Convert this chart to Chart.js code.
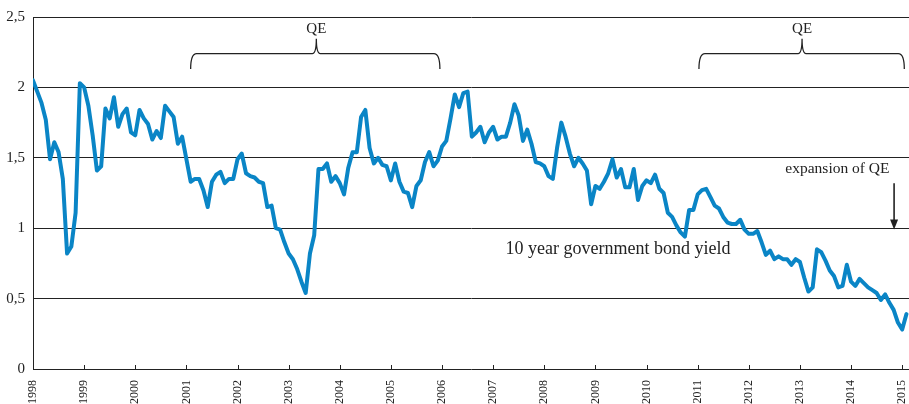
<!DOCTYPE html>
<html>
<head>
<meta charset="utf-8">
<script src="https://cdn.jsdelivr.net/npm/chart.js@4.4.0/dist/chart.umd.min.js"></script>
<style>
  html, body { margin: 0; padding: 0; background: #fff; }
</style>
</head>
<body>
<canvas id="bond" width="909" height="404"></canvas>
<script>
// monthly 10 year government bond yield, Jan 1998 .. Feb 2015
const yields = [
  2.05,1.97,1.89,1.77,1.49,1.61,1.54,1.35,0.82,0.87,1.11,2.03, // 1998
  2.00,1.87,1.66,1.41,1.44,1.85,1.78,1.93,1.72,1.81,1.85,1.68, // 1999
  1.66,1.84,1.78,1.74,1.63,1.69,1.64,1.87,1.83,1.79,1.60,1.65, // 2000
  1.49,1.33,1.35,1.35,1.27,1.15,1.33,1.38,1.40,1.32,1.35,1.35, // 2001
  1.49,1.53,1.39,1.37,1.36,1.33,1.32,1.15,1.16,1.00,0.99,0.90, // 2002
  0.82,0.78,0.71,0.62,0.54,0.82,0.95,1.42,1.42,1.46,1.33,1.37, // 2003
  1.32,1.24,1.43,1.54,1.54,1.79,1.84,1.57,1.46,1.50,1.45,1.44, // 2004
  1.34,1.46,1.33,1.26,1.25,1.15,1.30,1.34,1.47,1.54,1.44,1.48, // 2005
  1.58,1.62,1.78,1.95,1.86,1.96,1.97,1.65,1.68,1.72,1.61,1.68, // 2006
  1.72,1.63,1.65,1.65,1.75,1.88,1.80,1.62,1.70,1.60,1.47,1.46, // 2007
  1.44,1.37,1.35,1.57,1.75,1.65,1.53,1.44,1.50,1.46,1.41,1.17, // 2008
  1.30,1.28,1.33,1.39,1.49,1.36,1.42,1.29,1.29,1.42,1.20,1.30, // 2009
  1.34,1.32,1.38,1.28,1.25,1.11,1.08,1.02,0.97,0.94,1.13,1.13, // 2010
  1.24,1.27,1.28,1.22,1.16,1.14,1.08,1.04,1.03,1.03,1.06,0.99, // 2011
  0.96,0.96,0.98,0.90,0.81,0.84,0.78,0.80,0.78,0.78,0.74,0.78, // 2012
  0.76,0.65,0.55,0.58,0.85,0.83,0.77,0.70,0.66,0.58,0.59,0.74, // 2013
  0.62,0.59,0.64,0.61,0.58,0.56,0.54,0.49,0.53,0.47,0.42,0.33, // 2014
  0.28,0.39                                                    // 2015
];
const yearLabels = ['1998','1999','2000','2001','2002','2003','2004','2005','2006',
                    '2007','2008','2009','2010','2011','2012','2013','2014','2015'];
const yTicks = [0, 0.5, 1, 1.5, 2, 2.5];

// QE periods in months since Jan 1998: [start, middle, end]
const qePeriods = [[37, 66.5, 95.5], [156.3, 180.5, 204.5]];
const qeLabel = 'QE';
const expansionLabel = 'expansion of QE';
const expansionMonth = 202.1;
const seriesLabel = '10 year government bond yield';

const points = yields.map((v, i) => ({x: i, y: v}));

const serif = '"Liberation Serif", "DejaVu Serif", serif';

const overlay = {
  id: 'overlay',
  afterDraw(chart) {
    const ctx = chart.ctx, xs = chart.scales.x, ys = chart.scales.y;
    ctx.save();
    ctx.strokeStyle = '#222';
    ctx.fillStyle = '#222';
    ctx.lineWidth = 1;
    // year ticks pointing up from the axis
    yearLabels.forEach((lab, i) => {
      const px = Math.round(xs.getPixelForValue(i * 12)) + 0.5;
      ctx.beginPath();
      ctx.moveTo(px, ys.bottom);
      ctx.lineTo(px, ys.bottom - 4);
      ctx.stroke();
    });

    // braces
    const yLine = ys.getPixelForValue(2.24);
    const yEnd = ys.getPixelForValue(2.13);
    const yTip = ys.getPixelForValue(2.345);
    ctx.lineWidth = 1.3;
    ctx.font = '15px ' + serif;
    ctx.textAlign = 'center';
    ctx.textBaseline = 'middle';
    qePeriods.forEach(p => {
      const x1 = xs.getPixelForValue(p[0]);
      const xm = xs.getPixelForValue(p[1]);
      const x2 = xs.getPixelForValue(p[2]);
      ctx.beginPath();
      ctx.moveTo(x1, yEnd);
      ctx.quadraticCurveTo(x1, yLine, x1 + 6, yLine);
      ctx.lineTo(xm - 4, yLine);
      ctx.quadraticCurveTo(xm, yLine, xm, yTip);
      ctx.quadraticCurveTo(xm, yLine, xm + 4, yLine);
      ctx.lineTo(x2 - 6, yLine);
      ctx.quadraticCurveTo(x2, yLine, x2, yEnd);
      ctx.stroke();
      ctx.fillText(qeLabel, xm, ys.getPixelForValue(2.415));
    });

    // expansion of QE arrow
    const ax = xs.getPixelForValue(expansionMonth);
    const aTop = ys.getPixelForValue(1.32);
    const aBot = ys.getPixelForValue(0.99);
    ctx.lineWidth = 1.6;
    ctx.beginPath();
    ctx.moveTo(ax, aTop);
    ctx.lineTo(ax, aBot - 8);
    ctx.stroke();
    ctx.beginPath();
    ctx.moveTo(ax - 4, aBot - 10);
    ctx.lineTo(ax + 4, aBot - 10);
    ctx.lineTo(ax, aBot);
    ctx.closePath();
    ctx.fill();
    ctx.font = '15.5px ' + serif;
    ctx.fillText(expansionLabel, xs.getPixelForValue(188.8), ys.getPixelForValue(1.42));

    ctx.font = '18px ' + serif;
    ctx.fillText(seriesLabel, xs.getPixelForValue(137.3), ys.getPixelForValue(0.85));
    ctx.restore();
  }
};

new Chart(document.getElementById('bond'), {
  type: 'line',
  data: {
    datasets: [{
      data: points,
      borderColor: '#0a85c6',
      borderWidth: 4,
      pointRadius: 0,
      tension: 0,
      borderJoinStyle: 'round',
      borderCapStyle: 'round'
    }]
  },
  options: {
    responsive: false,
    animation: false,
    layout: {padding: {top: 16, right: 0, left: 0, bottom: 0}},
    plugins: {legend: {display: false}, tooltip: {enabled: false}},
    scales: {
      x: {
        type: 'linear',
        min: 0,
        max: 205.6,
        afterBuildTicks: s => { s.ticks = yearLabels.map((l, i) => ({value: i * 12})); },
        afterFit: s => { s.height = 35; s.paddingLeft = 0; s.paddingRight = 0; },
        grid: {display: false},
        border: {display: false},
        ticks: {
          autoSkip: false,
          minRotation: 90,
          maxRotation: 90,
          padding: 3,
          color: '#222',
          font: {family: serif, size: 12},
          callback: (v, i) => yearLabels[i]
        }
      },
      y: {
        min: 0,
        max: 2.5,
        afterBuildTicks: s => { s.ticks = yTicks.map(v => ({value: v})); },
        afterFit: s => { s.width = 33; },
        grid: {color: '#222', lineWidth: 1, drawTicks: false},
        border: {display: true, color: '#222', width: 1},
        ticks: {
          padding: 8,
          color: '#222',
          font: {family: serif, size: 15},
          callback: v => String(v).replace('.', ',')
        }
      }
    }
  },
  plugins: [overlay]
});
</script>
</body>
</html>
